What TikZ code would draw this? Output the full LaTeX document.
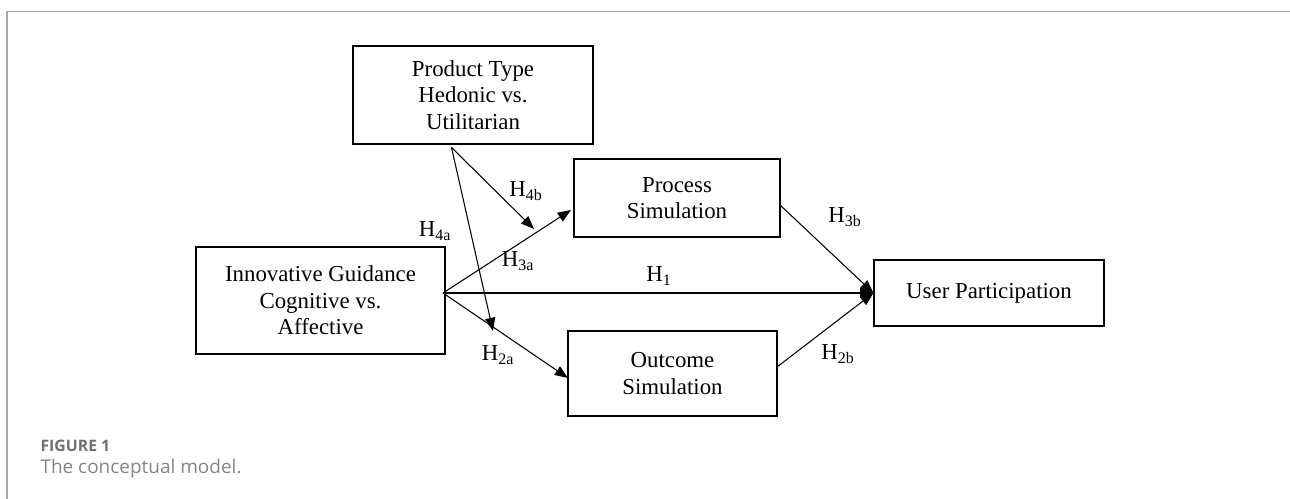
\documentclass[tikz,border=0pt]{standalone}
\usepackage{fontspec}
\setmainfont{Liberation Serif}
\newfontfamily\captionfont{Open Sans}
\usetikzlibrary{arrows.meta}

\definecolor{framegray}{HTML}{A8A8A8}
\definecolor{capgray}{HTML}{707070}

\begin{document}
\begin{tikzpicture}[x=0.02cm,y=-0.02cm,>={Triangle[length=7.5pt,width=5.8pt]},line width=0.6pt]
%\draw[help lines] (0,0) grid (1290,499);
\tikzstyle{v}=[rectangle,draw,line width=0.7pt,inner sep=1mm,align=center,font=\fontsize{13}{15}\selectfont]
\tikzstyle{h}=[inner sep=0pt,font=\fontsize{13}{15}\selectfont]
\useasboundingbox (0,0) rectangle (1290,499);

% frame of the figure
\draw[framegray,line width=1pt] (7,499) -- (7,11.5) -- (1290,11.5);

\node[v,minimum width=4.8cm,minimum height=1.96cm] (pt) at (473,95) {Product Type\\Hedonic vs.\\Utilitarian};

\node[v,minimum width=4.98cm,minimum height=2.14cm] (ig) at (320.5,300.5) {Innovative Guidance\\Cognitive vs.\\Affective};

\node[v,minimum width=4.12cm,minimum height=1.56cm] (proc) at (677,198) {Process\\Simulation};

\node[v,minimum width=4.18cm,minimum height=1.7cm] (outc) at (672.5,373.5) {Outcome\\Simulation};

\node[v,minimum width=4.6cm,minimum height=1.32cm] (up) at (989,293) {User Participation};

\coordinate (igout) at (443,293);
\coordinate (ptout) at (451.5,147.5);
\coordinate (procin) at (571,210);
\coordinate (outcin) at (568,378);
\coordinate (procout) at (780,205);
\coordinate (outcout) at (777,367);
\coordinate (h4btip) at (534,229);
\coordinate (h4atip) at (493,331);

\path (igout) edge[->] (procin);
\path (igout) edge[->] (outcin);
\path (igout) edge[->] (up.west);
\path (procout) edge[->] (up.west);
\path (outcout) edge[->] (up.west);
\path (ptout) edge[->] (h4btip);
\path (ptout) edge[->] (h4atip);

\node[h] (h4a) at (435,231) {H\textsubscript{4a}};
\node[h] (h4b) at (526,191) {H\textsubscript{4b}};
\node[h] (h3a) at (518,261) {H\textsubscript{3a}};
\node[h] (h2a) at (498,355) {H\textsubscript{2a}};
\node[h] (h1) at (659,276) {H\textsubscript{1}};
\node[h] (h3b) at (845,217) {H\textsubscript{3b}};
\node[h] (h2b) at (838,354) {H\textsubscript{2b}};

% caption
\node[anchor=base west,inner sep=0pt,text=capgray,font=\captionfont\bfseries\fontsize{9}{11}\selectfont] (fig) at (40,451.5) {FIGURE 1};
\node[anchor=base west,inner sep=0pt,text=capgray!85,font=\captionfont\fontsize{10.8}{13}\selectfont] (cap) at (40,473) {The conceptual model.};
\end{tikzpicture}
\end{document}
